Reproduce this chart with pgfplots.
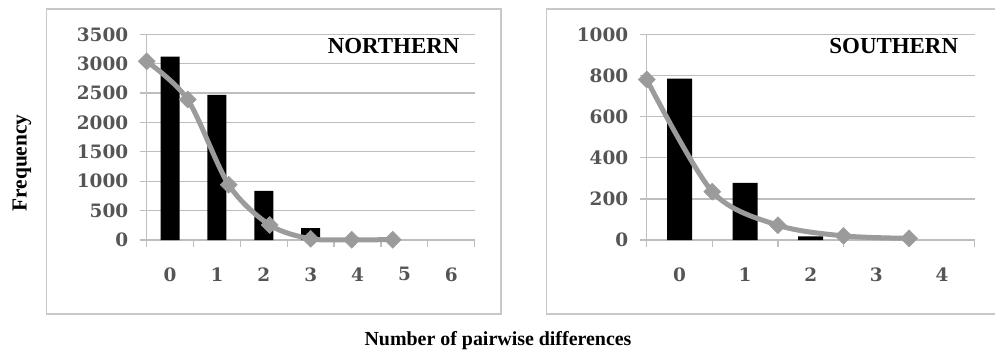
\documentclass[border=0pt]{standalone}
\usepackage{fontspec}
\setmainfont{Liberation Serif}
\newfontfamily\tickfont{DejaVu Serif}
\usepackage{pgfplots}
\pgfplotsset{compat=1.18}
\definecolor{gridgray}{RGB}{190,190,190}
\definecolor{framegray}{RGB}{200,200,200}
\definecolor{linegray}{RGB}{155,155,155}
\definecolor{ticktext}{RGB}{85,85,85}
\pgfplotsset{
 panel/.style={
  scale only axis, width=328bp, height=205.7bp, anchor=south west,
  axis x line*=bottom, axis y line*=left,
  axis line style={gridgray, line width=1.3bp},
  ymajorgrids, grid style={gridgray, line width=1.3bp},
  tick style={gridgray, line width=1.3bp},
  tick align=outside, major tick length=7bp,
  xticklabels={},
  extra x tick style={major tick length=0pt, grid=none},
  ticklabel style={font=\tickfont\bfseries\fontsize{18.5}{22}\selectfont, text=ticktext},
  yticklabel style={xshift=-8bp},
  xticklabel style={yshift=-24bp},
  /pgf/number format/assume math mode=true,
  /pgf/number format/1000 sep={},
  clip=false,
 },
 curve/.style={linegray, line width=5bp, smooth, mark=square*, mark size=6bp,
  mark options={fill=linegray, draw=linegray, line width=0.5bp, rotate=45}},
}
\begin{document}
\begin{tikzpicture}[x=1bp,y=1bp]
\path[use as bounding box] (0,0) rectangle (995,354);
\draw[framegray, line width=1.5bp] (46.7,40) rectangle (501,345);
\draw[framegray, line width=1.5bp] (546.7,40) rectangle (998,345);

\begin{axis}[panel, at={(146.7bp,114bp)},
  xmin=-0.5, xmax=6.5, ymin=0, ymax=3500,
  ytick={0,500,...,3500},
  xtick={-0.5,0.5,1.5,2.5,3.5,4.5,5.5,6.5},
  extra x ticks={0,1,2,3,4,5,6},
  extra x tick labels={0,1,2,3,4,5,6}]
\addplot[ybar, bar width=19bp, fill=black, draw=none] coordinates {(0,3120) (1,2470) (2,835) (3,200)};
\addplot[curve]
  coordinates {(-0.5,3040) (0.375,2390) (1.25,940) (2.125,255) (3.0,20) (3.875,5) (4.75,5)};
\node[anchor=base east, font=\bfseries\fontsize{23}{27}\selectfont] at (rel axis cs:0.964,0.909) {NORTHERN};
\end{axis}

\begin{axis}[panel, at={(646.7bp,114bp)},
  xmin=-0.5, xmax=4.5, ymin=0, ymax=1000,
  ytick={0,200,...,1000},
  xtick={-0.5,0.5,1.5,2.5,3.5,4.5},
  extra x ticks={0,1,2,3,4},
  extra x tick labels={0,1,2,3,4}]
\addplot[ybar, bar width=25bp, fill=black, draw=none] coordinates {(0,785) (1,278) (2,18)};
\addplot[curve]
  coordinates {(-0.5,780) (0.5,235) (1.5,72) (2.5,20) (3.5,8)};
\node[anchor=base east, font=\bfseries\fontsize{23}{27}\selectfont] at (rel axis cs:0.96,0.909) {SOUTHERN};
\end{axis}

\node[rotate=90, font=\bfseries\fontsize{21.5}{25}\selectfont] at (22,191) {Frequency};
\node[anchor=base, font=\bfseries\fontsize{20}{24}\selectfont] at (498,9) {Number of pairwise differences};
\end{tikzpicture}
\end{document}
